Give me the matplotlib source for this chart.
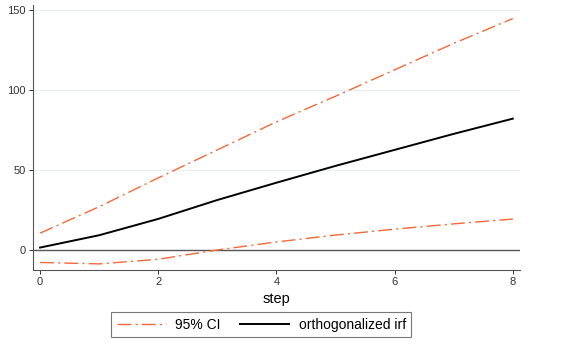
import matplotlib
matplotlib.use("Agg")
import matplotlib.pyplot as plt
from matplotlib.lines import Line2D

plt.rcParams['font.family'] = ['Liberation Sans', 'DejaVu Sans']

step = [0, 1, 2, 3, 4, 5, 6, 7, 8]
irf = [1.5, 9.2, 19.4, 31.2, 42.0, 52.5, 62.5, 72.5, 82.0]
ci_upper = [10.5, 27.0, 45.0, 62.5, 80.0, 96.0, 112.5, 129.0, 144.5]
ci_lower = [-7.8, -8.7, -5.8, 0.0, 5.0, 9.3, 13.0, 16.3, 19.3]

ci_color = "#f4683a"

fig = plt.figure(figsize=(5.61, 3.52), dpi=100)
ax = fig.add_axes([0.0588, 0.233, 0.868, 0.753])

for v in [50, 100, 150]:
    ax.axhline(v, color="#eaf0f2", lw=0.8, zorder=0)
ax.axhline(0, color="#555555", lw=1.0, zorder=1)

ax.plot(step, ci_upper, color=ci_color, lw=1.0, dashes=(10, 3, 1.5, 3), zorder=2)
ax.plot(step, ci_lower, color=ci_color, lw=1.0, dashes=(10, 3, 1.5, 3), zorder=2)
ax.plot(step, irf, color="black", lw=1.4, zorder=3)

ax.set_xlim(-0.12, 8.12)
ax.set_ylim(-12.5, 153)
ax.set_xticks([0, 2, 4, 6, 8])
ax.set_yticks([0, 50, 100, 150])
ax.tick_params(labelsize=8, length=3, width=0.7, colors="#333333", pad=2)
for s in ["top", "right"]:
    ax.spines[s].set_visible(False)
for s in ["left", "bottom"]:
    ax.spines[s].set_color("#555555")
    ax.spines[s].set_linewidth(0.8)
ax.set_xlabel("step", fontsize=10.5, labelpad=4)

handles = [
    Line2D([], [], color=ci_color, lw=1.0, dashes=(10, 3, 1.5, 3)),
    Line2D([], [], color="black", lw=1.4),
]
leg = fig.legend(handles, ["95% CI", "orthogonalized irf"], loc="center",
                 bbox_to_anchor=(0.466, 0.077), ncol=2, fontsize=10,
                 frameon=True, fancybox=False, edgecolor="#555555",
                 handlelength=3.5, handletextpad=0.7, columnspacing=1.4,
                 borderpad=0.4, borderaxespad=0)
leg.get_frame().set_linewidth(0.8)

fig.savefig("out.png", dpi=100)
